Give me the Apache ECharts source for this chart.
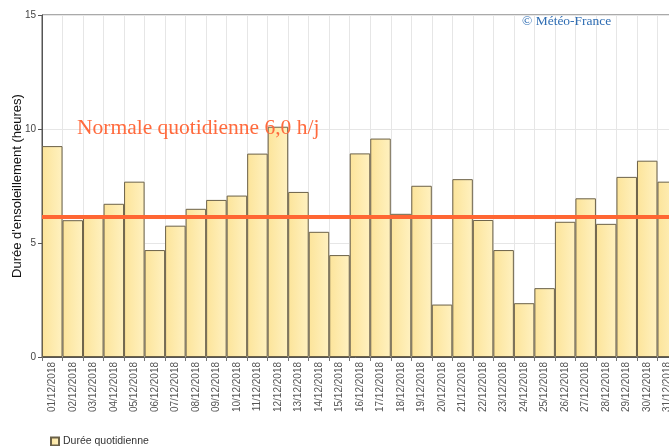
<!DOCTYPE html>
<html>
<head>
<meta charset="utf-8">
<script src="https://cdn.jsdelivr.net/npm/echarts@6/dist/echarts.min.js"></script>
<style>html,body{margin:0;padding:0;background:#fff;}#c{width:669px;height:446px;}</style>
</head>
<body>
<div id="c"></div>
<script>
const categories = ["01/12/2018","02/12/2018","03/12/2018","04/12/2018","05/12/2018","06/12/2018","07/12/2018","08/12/2018","09/12/2018","10/12/2018","11/12/2018","12/12/2018","13/12/2018","14/12/2018","15/12/2018","16/12/2018","17/12/2018","18/12/2018","19/12/2018","20/12/2018","21/12/2018","22/12/2018","23/12/2018","24/12/2018","25/12/2018","26/12/2018","27/12/2018","28/12/2018","29/12/2018","30/12/2018","31/12/2018"];
const dailyHours = [9.25,6.0,6.15,6.72,7.69,4.69,5.76,6.5,6.89,7.08,8.92,10.1,7.24,5.49,4.47,8.93,9.58,6.28,7.51,2.30,7.8,6.01,4.69,2.36,3.02,5.93,6.96,5.84,7.9,8.61,7.69];
const normalLine = 6.15;
const normalText = "Normale quotidienne 6,0 h/j";
const yTicks = [0, 5, 10, 15];

const chart = echarts.init(document.getElementById('c'), null, {renderer:'canvas'});
chart.setOption({
  animation:false,
  backgroundColor:'#fff',
  grid:{left:42, top:15, width:636, height:342, outerBoundsMode:'none', containLabel:false,
    show:true, borderColor:'#555', borderWidth:1, backgroundColor:'transparent'},
  legend:{
    left:50, top:436, padding:0, icon:'rect', itemWidth:8, itemHeight:8, itemGap:4,
    textStyle:{fontFamily:'Liberation Sans, Arial', fontSize:10.5, color:'#333', padding:[0,0,0,-1]},
    data:['Durée quotidienne']
  },
  xAxis:{
    type:'category', data:categories, boundaryGap:true,
    axisLine:{lineStyle:{color:'#555'}},
    axisTick:{show:true, alignWithLabel:false, length:4, lineStyle:{color:'#777'}},
    splitLine:{show:true, lineStyle:{color:'#e6e6e6'}},
    axisLabel:{rotate:90, interval:0, fontFamily:'Liberation Sans, Arial', fontSize:10, color:'#555', margin:5}
  },
  yAxis:{
    type:'value', min:0, max:15, interval:5,
    name:"Durée d'ensoleillement (heures)", nameLocation:'middle', nameGap:18, nameMoveOverlap:false,
    nameTextStyle:{fontFamily:'Liberation Sans, Arial', fontSize:13, color:'#111'},
    axisLine:{show:true, lineStyle:{color:'#555'}},
    axisTick:{show:true, length:4, lineStyle:{color:'#555'}},
    splitLine:{show:true, lineStyle:{color:'#e6e6e6'}},
    axisLabel:{fontFamily:'Liberation Sans, Arial', fontSize:10, color:'#444', margin:6,
      formatter:function(v){return yTicks.indexOf(v)>=0 ? String(v) : '';}}
  },
  series:[{
    name:'Durée quotidienne', type:'bar', data:dailyHours, barCategoryGap:'0%',
    itemStyle:{
      color:new echarts.graphic.LinearGradient(0,0,1,0,[{offset:0,color:'#fce49a'},{offset:1,color:'#fff1c0'}]),
      borderColor:'#6b6148', borderWidth:1
    },
    markLine:{
      silent:true, symbol:['none','none'], label:{show:false},
      lineStyle:{color:'#ff6633', width:4, type:'solid'},
      data:[{yAxis:normalLine}]
    },
    z:2
  }],
  graphic:[
    {type:'text', left:77, top:117, z:10, style:{text:normalText, fontFamily:'Liberation Serif, Times New Roman, serif', fontSize:21.5, fill:'#ff6a3d'}},
    {type:'text', left:522, top:14, z:10, style:{text:'© Météo-France', fontFamily:'Liberation Serif, Times New Roman, serif', fontSize:13.5, fill:'#2f6db3'}}
  ]
});
</script>
</body>
</html>
